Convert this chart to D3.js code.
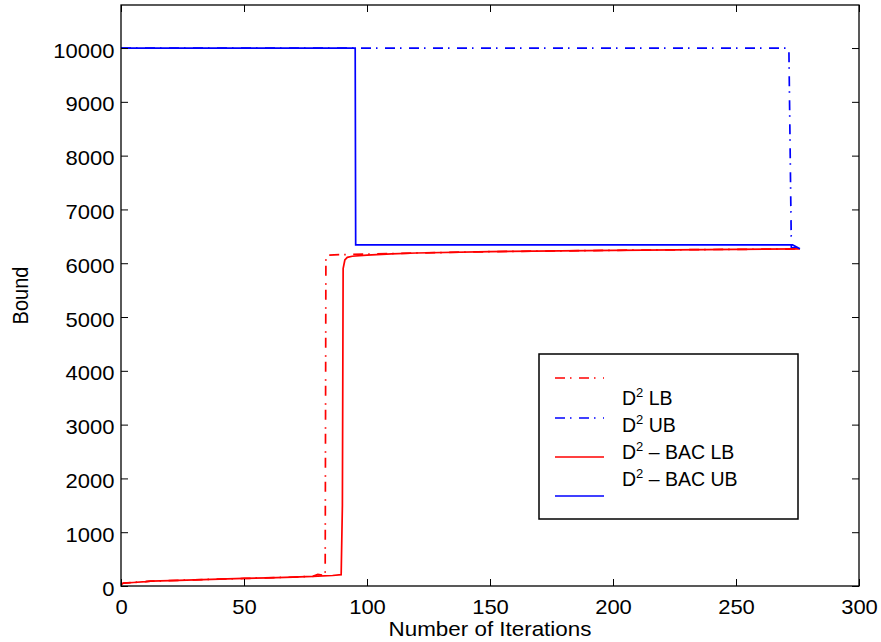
<!DOCTYPE html>
<html lang="en">
<head>
<meta charset="utf-8">
<title>Bounds vs iterations</title>
<script src="https://cdn.jsdelivr.net/npm/d3@7"></script>
<style>
  body { margin: 0; background: #fff; }
  text { font-family: "Liberation Sans", Arial, Helvetica, sans-serif; fill: #000; }
</style>
</head>
<body>
<script>
// tick values
var xTicks = [0, 50, 100, 150, 200, 250, 300];
var yTicks = [0, 1000, 2000, 3000, 4000, 5000, 6000, 7000, 8000, 9000, 10000];

// series: [iteration, bound]
var d2LB = [[0,30],[1,55],[10,80],[12,90],[30,115],[50,140],[70,165],[78,180],[80,215],[82,200],[83,210],
            [83.3,6150],[90,6160],[100,6170],[120,6190],[150,6215],[200,6240],[250,6258],[276,6265]];
var d2UB = [[0,10000],[271.5,10000],[272.5,6290],[276,6280]];
var bacLB = [[0,30],[1,55],[5,65],[10,80],[12,90],[20,100],[30,115],[40,128],[50,140],[60,152],[70,165],
             [78,178],[80,185],[86,195],[89.5,210],[90,1500],[90.3,5900],[91,6060],[92,6110],[94,6130],
             [100,6150],[110,6175],[120,6190],[150,6215],[200,6240],[250,6258],[276,6265]];
var bacUB = [[0,10000],[95.2,10000],[95.4,6340],[273,6340],[276,6270]];

var legendNames = ["LB", "UB", "\u2013 BAC LB", "\u2013 BAC UB"];

var w = 881, h = 642;
var pLeft = 121, pRight = 859, pTop = 5, pBottom = 586;
var dashDot = "10,5,1.5,7.5";

var svg = d3.select("body").append("svg")
  .attr("width", w).attr("height", h);

var xScale = d3.scaleLinear().domain([0, 300]).range([pLeft, pRight]);
var yScale = d3.scaleLinear().domain([0, 10800]).range([pBottom, pTop]);

var line = d3.line()
  .x(function(d) { return xScale(d[0]); })
  .y(function(d) { return yScale(d[1]); });

// series
var series = [
  { data: d2LB, color: "#ff0000", dash: dashDot },
  { data: d2UB, color: "#0000ff", dash: dashDot },
  { data: bacLB, color: "#ff0000", dash: null },
  { data: bacUB, color: "#0000ff", dash: null }
];

series.forEach(function(s) {
  svg.append("path")
    .datum(s.data)
    .attr("d", line)
    .attr("fill", "none")
    .attr("stroke", s.color)
    .attr("stroke-width", 1.7)
    .attr("stroke-dasharray", s.dash);
});

// axes (MATLAB-style box with inward ticks)
var fmt = d3.format("d");
var xAxisB = d3.axisBottom(xScale).tickValues(xTicks).tickFormat(fmt).tickSizeInner(-7).tickSizeOuter(0).tickPadding(14);
var xAxisT = d3.axisTop(xScale).tickValues(xTicks).tickSizeInner(-7).tickSizeOuter(0).tickFormat("");
var yAxisL = d3.axisLeft(yScale).tickValues(yTicks).tickFormat(fmt).tickSizeInner(-7).tickSizeOuter(0).tickPadding(6);
var yAxisR = d3.axisRight(yScale).tickValues(yTicks).tickSizeInner(-7).tickSizeOuter(0).tickFormat("");

function styleAxis(g) {
  g.select(".domain").remove();
  g.selectAll("line").attr("stroke", "#000").attr("stroke-width", 1);
  g.selectAll("text").attr("font-size", 20).attr("fill", "#000")
    .attr("transform", "scale(1.1,1)")
    .attr("font-family", "'Liberation Sans', Arial, sans-serif");
}

svg.append("g").attr("transform", "translate(0," + pBottom + ")").call(xAxisB).call(styleAxis);
svg.append("g").attr("transform", "translate(0," + pTop + ")").call(xAxisT).call(styleAxis);
svg.append("g").attr("transform", "translate(" + pLeft + ",0)").call(yAxisL).call(styleAxis)
  .selectAll("text").attr("dy", "0.45em");
svg.append("g").attr("transform", "translate(" + pRight + ",0)").call(yAxisR).call(styleAxis);

svg.append("rect")
  .attr("x", pLeft).attr("y", pTop)
  .attr("width", pRight - pLeft).attr("height", pBottom - pTop)
  .attr("fill", "none").attr("stroke", "#000").attr("stroke-width", 1.3);

// axis titles
svg.append("text")
  .attr("transform", "translate(" + ((pLeft + pRight) / 2) + ",636) scale(1.12,1)")
  .attr("text-anchor", "middle").attr("font-size", 20)
  .text("Number of Iterations");

svg.append("text")
  .attr("transform", "translate(28," + ((pTop + pBottom) / 2) + ") scale(1.12,1) rotate(-90)")
  .attr("text-anchor", "middle").attr("font-size", 20)
  .text("Bound");

// legend
var lg = svg.append("g");
lg.append("rect")
  .attr("x", 539).attr("y", 354).attr("width", 259).attr("height", 165)
  .attr("fill", "#fff").attr("stroke", "#000").attr("stroke-width", 1.5);

var sampleY = [378, 418, 457, 496];
var labelY = [405, 432, 459, 486];

series.forEach(function(s, i) {
  lg.append("line")
    .attr("x1", 555).attr("x2", 604)
    .attr("y1", sampleY[i]).attr("y2", sampleY[i])
    .attr("stroke", s.color).attr("stroke-width", 1.7)
    .attr("stroke-dasharray", s.dash);
  var t = lg.append("text")
    .attr("x", 622).attr("y", labelY[i])
    .attr("font-size", 19.5);
  t.append("tspan").text("D");
  t.append("tspan").attr("dy", -8).attr("font-size", 13).text("2");
  t.append("tspan").attr("dy", 8).text(" " + legendNames[i]);
});
</script>
</body>
</html>
